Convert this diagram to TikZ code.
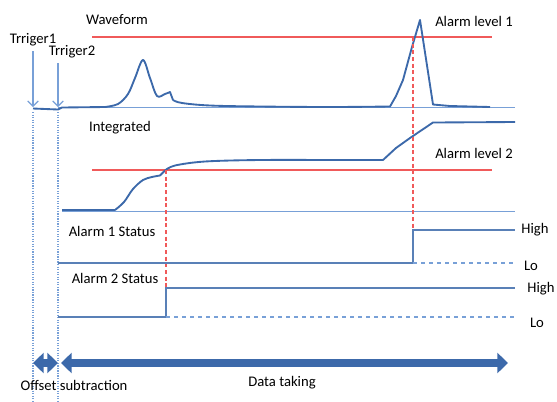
\documentclass[tikz,border=0pt]{standalone}
\usepackage{fontspec}
\setmainfont{Carlito}
\usetikzlibrary{arrows.meta}
\definecolor{sigblue}{RGB}{60,105,170}
\definecolor{lineblue}{RGB}{120,160,215}
\definecolor{alarmred}{RGB}{240,90,90}

\begin{document}
\begin{tikzpicture}[x=0.75pt, y=-0.75pt, font=\fontsize{11}{13}\selectfont,
    signal/.style={sigblue, line width=1.4pt, line join=round},
    base/.style={lineblue, line width=0.7pt},
    level/.style={alarmred, line width=0.9pt},
    cross/.style={alarmred, densely dashed, line width=0.9pt},
    guide/.style={lineblue, densely dotted, line width=0.9pt},
    lo/.style={lineblue, dashed, line width=0.8pt},
    status/.style={sigblue!85!white, line width=2pt},
    span/.style={sigblue, line width=6pt,
        {Triangle[width=15pt,length=8pt]}-{Triangle[width=15pt,length=8pt]}}]
    \useasboundingbox (0,0) rectangle (557,401);

    % Triggers
    \node (t1) at (33,40) {Trriger1};
    \node (t2) at (72,52) {Trriger2};
    \coordinate (t1end) at (33,107);
    \coordinate (t2end) at (58,107);
    \draw[lineblue, line width=0.8pt, -{Straight Barb[length=4pt]}] (t1) -- (t1end);
    \draw[lineblue, line width=0.8pt, -{Straight Barb[length=4pt]}] (t2.south -| t2end) -- (t2end);
    \foreach \x in {33,58} {
        \draw[guide] (\x,112) -- (\x,401);
    }

    % Waveform
    \node (wave) at (117,20) {Waveform};
    \node (lvl1) at (474,21) {Alarm level 1};
    \draw[level] (92,37) -- (492,37);
    \draw[base] (58,107) -- (515,107);
    \draw[signal] (33,108.5) -- (58,109.5) -- (62,107.5) -- (105,107)
        plot[smooth, tension=0.55] coordinates {(105,107) (118,104) (128,94) (135,78)
        (143,60) (150,78) (157,96) (165,94) (170,92)} -- (173,100)
        plot[smooth, tension=0.6] coordinates {(173,100) (182,103) (210,105.5) (260,106.5) (330,107) (390,106.5)}
        -- (396,96) -- (403,80) -- (412,47) -- (420,20) -- (433,104.5) -- (450,106) -- (490,107);

    % Integrated
    \node (integ) at (120,128) {Integrated};
    \node (lvl2) at (474,153) {Alarm level 2};
    \draw[level] (92,170) -- (492,170);
    \draw[base] (62,211) -- (515,211);
    \draw[signal] (62,210) -- (115,210)
        plot[smooth, tension=0.55] coordinates {(115,210) (124,202) (133,189) (143,180)
        (152,177) (160,175.5)} -- (165,170.5)
        plot[smooth, tension=0.55] coordinates {(165,170.5) (175,165.5) (205,161.5) (260,160) (340,160) (383,160)}
        -- (396,148) -- (410,138) -- (433,122.5) -- (515,122);

    % Alarm crossings
    \draw[cross] (413,37) -- (413,262);
    \draw[cross] (166,170) -- (166,316);

    % Alarm 1
    \node (st1) at (112,231) {Alarm 1 Status};
    \node (hi1) at (535,230) {High};
    \node (lo1) at (531,266) {Lo};
    \draw[status] (58,263) -- (413,263) -- (413,230) -- (515,230);
    \draw[lo] (413,263) -- (515,263);

    % Alarm 2
    \node (st2) at (115,278) {Alarm 2 Status};
    \node (hi2) at (541,289) {High};
    \node (lo2) at (537,323) {Lo};
    \draw[status] (58,317) -- (166,317) -- (166,288) -- (515,288);
    \draw[lo] (166,317) -- (515,317);

    % Periods
    \coordinate (a) at (33,363);
    \coordinate (b) at (58,363);
    \coordinate (c) at (61,363);
    \coordinate (d) at (508,363);
    \draw[span] (a) -- (b);
    \draw[span] (c) -- (d);
    \node (offset) at (74,385) {Offset subtraction};
    \node (taking) at (282,383) {Data taking};
\end{tikzpicture}
\end{document}
